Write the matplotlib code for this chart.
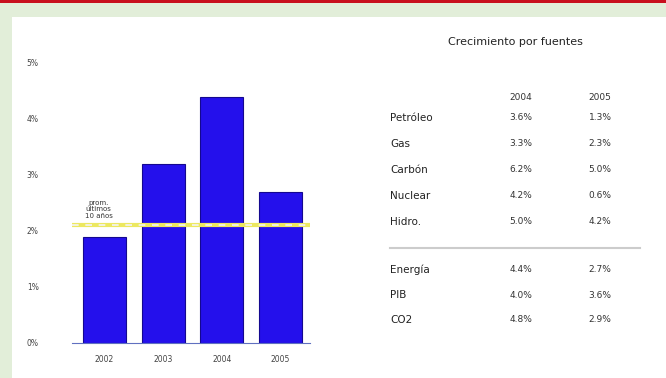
import numpy as np
import matplotlib.pyplot as plt
from matplotlib.patches import Rectangle
from matplotlib.lines import Line2D

years = ['2002', '2003', '2004', '2005']
growth = [1.9, 3.2, 4.4, 2.7]
avg_10y = 2.1
yticks = [0, 1, 2, 3, 4, 5]

sources = ['Petróleo', 'Gas', 'Carbón', 'Nuclear', 'Hidro.']
src_2004 = ['3.6%', '3.3%', '6.2%', '4.2%', '5.0%']
src_2005 = ['1.3%', '2.3%', '5.0%', '0.6%', '4.2%']
totals = ['Energía', 'PIB', 'CO2']
tot_2004 = ['4.4%', '4.0%', '4.8%']
tot_2005 = ['2.7%', '3.6%', '2.9%']

W, H = 666, 378
fig = plt.figure(figsize=(W / 100, H / 100), dpi=100, facecolor='#e2eed9')

def px(x, y):
    # pixel position (from top-left) to figure fraction
    return x / W, 1 - y / H

# white panel and red strip on top
fig.add_artist(Rectangle((12 / W, 0), 1, 1 - 17 / H, transform=fig.transFigure,
                         facecolor='white', edgecolor='none', zorder=-10))
fig.add_artist(Rectangle((0, 1 - 3 / H), 1, 3 / H, transform=fig.transFigure,
                         facecolor='#c8101e', edgecolor='none', zorder=-10))

# bar chart
ax = fig.add_axes([72 / W, 1 - 343 / H, (310 - 72) / W, (343 - 63) / H])
ax.set_zorder(5)
ax.set_facecolor('white')
x = np.arange(len(years))
ax.bar(x, growth, width=0.73, color='#2410ec', edgecolor='#140890', linewidth=0.8, zorder=2)
ax.axhline(avg_10y, color='#ece860', lw=3, zorder=3)
ax.axhline(avg_10y, color='#f4f4f4', lw=1.2, ls=(0, (4, 4)), zorder=4)
ax.set_xlim(-0.55, 3.5)
ax.set_ylim(0, 5)
ax.set_yticks(yticks)
ax.set_yticklabels([f'{v}%' for v in yticks], fontsize=5.5, color='#444444')
ax.set_xticks(x)
ax.set_xticklabels(years, fontsize=5.5, color='#444444')
ax.tick_params(axis='y', length=0, pad=24)
ax.tick_params(axis='x', length=0, pad=9)
for s in ['top', 'right', 'left']:
    ax.spines[s].set_visible(False)
ax.spines['bottom'].set_color('#6070c0')
ax.spines['bottom'].set_linewidth(0.8)
ax.text(-0.1, avg_10y + 0.12, 'prom.\núltimos\n10 años', fontsize=5, ha='center',
        va='bottom', color='#333333', linespacing=1.1)

# table of growth by source
fig.text(*px(515, 42), 'Crecimiento por fuentes', fontsize=8, ha='center', va='center',
         color='#222222')
fig.text(*px(521, 97), '2004', fontsize=6.5, ha='center', va='center', color='#333333')
fig.text(*px(600, 97), '2005', fontsize=6.5, ha='center', va='center', color='#333333')

row_y = [118, 144, 170, 196, 222]
for yy, name, a, b in zip(row_y, sources, src_2004, src_2005):
    fig.text(*px(390, yy), name, fontsize=7.5, ha='left', va='center', color='#222222')
    fig.text(*px(521, yy), a, fontsize=6.5, ha='center', va='center', color='#333333')
    fig.text(*px(600, yy), b, fontsize=6.5, ha='center', va='center', color='#333333')

fig.add_artist(Line2D([390 / W, 640 / W], [1 - 248 / H] * 2, transform=fig.transFigure,
                      color='#cccccc', lw=1.5))

tot_y = [270, 295, 320]
for yy, name, a, b in zip(tot_y, totals, tot_2004, tot_2005):
    fig.text(*px(390, yy), name, fontsize=7.5, ha='left', va='center', color='#222222')
    fig.text(*px(521, yy), a, fontsize=6.5, ha='center', va='center', color='#333333')
    fig.text(*px(600, yy), b, fontsize=6.5, ha='center', va='center', color='#333333')

fig.savefig('out.png', dpi=100, facecolor=fig.get_facecolor())
